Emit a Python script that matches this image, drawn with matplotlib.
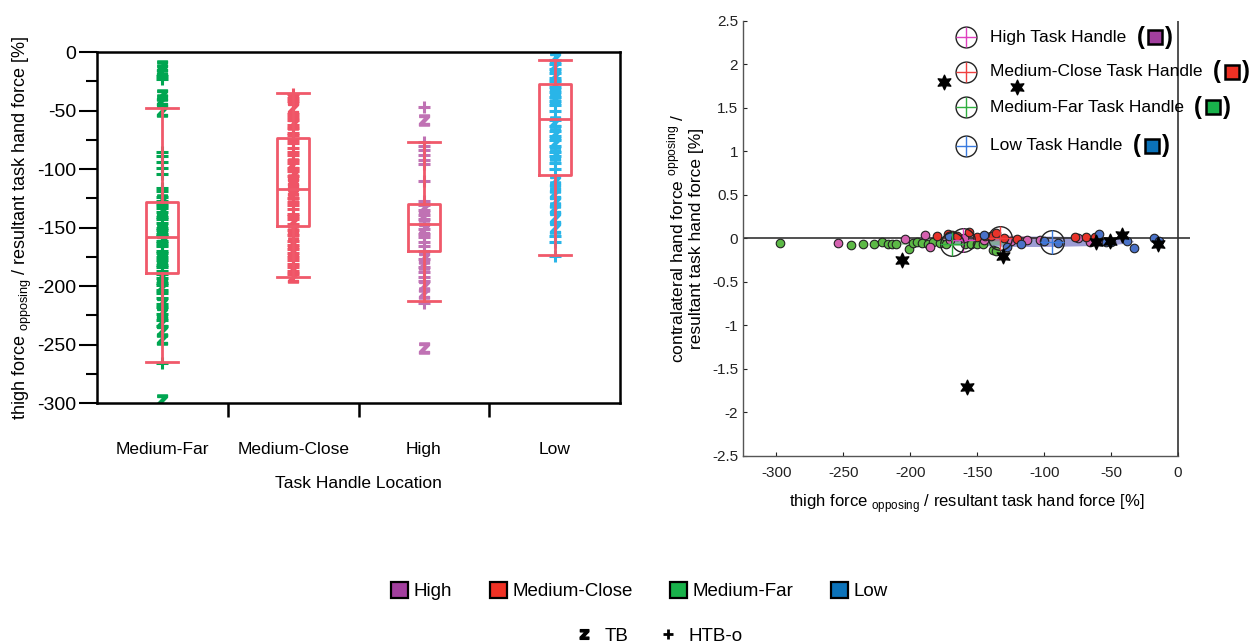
import matplotlib.pyplot as plt
import numpy as np
from matplotlib.lines import Line2D
from matplotlib.patches import Patch, Ellipse

plt.rcParams['font.family'] = ['Liberation Sans', 'DejaVu Sans']
plt.rcParams['mathtext.fontset'] = 'custom'
plt.rcParams['mathtext.rm'] = 'Liberation Sans'
plt.rcParams['axes.unicode_minus'] = False

# ---- left panel data: thigh force ratio per task handle location ----
categories = ['Medium-Far', 'Medium-Close', 'High', 'Low']
point_colors = ['#00a651', '#ef5466', '#c072b4', '#29b5e8']

whisker_hi = [-48, -35, -77, -7]
q3_vals = [-128, -73, -130, -27]
median_vals = [-158, -117, -147, -57]
q1_vals = [-189, -149, -170, -105]
whisker_lo = [-265, -192, -213, -173]

tb_medium_far = [-12, -15, -37, -41, -50, -126, -136, -151, -161, -176, -191,
                 -201, -214, -223, -231, -238, -245, -297]
htb_medium_far = [-20, -23, -85, -89, -94, -99, -104, -116, -119, -124, -127,
                  -131, -133, -137, -141, -143, -146, -150, -152, -155, -157,
                  -161, -163, -166, -170, -172, -175, -178, -182, -184, -187,
                  -190, -193, -197, -199, -203, -206, -210, -215, -218, -224,
                  -229, -234, -266]
tb_medium_close = [-40, -48, -61, -96, -105, -109, -113, -118, -121, -145,
                   -151, -163, -170, -185, -192]
htb_medium_close = [-36, -39, -42, -53, -55, -58, -62, -65, -69, -71, -75,
                    -78, -82, -85, -88, -92, -95, -99, -102, -106, -125, -128,
                    -131, -134, -138, -140, -143, -147, -152, -156, -161, -165,
                    -168, -172, -175, -178, -181, -184, -187, -190]
tb_high = [-58, -133, -140, -151, -176, -181, -200, -206, -253]
htb_high = [-47, -77, -80, -84, -88, -92, -96, -110, -127, -131, -135, -139,
            -143, -147, -151, -155, -158, -162, -166, -170, -177, -184, -188,
            -192, -196, -214]
tb_low = [-5, -12, -20, -28, -35, -40, -60, -70, -78, -88, -110, -115, -120,
          -128, -133, -142, -150]
htb_low = [-7, -10, -14, -18, -22, -25, -30, -34, -38, -42, -45, -50, -58,
           -63, -67, -72, -75, -80, -85, -89, -95, -100, -157, -162, -174]

tb_all = [tb_medium_far, tb_medium_close, tb_high, tb_low]
htb_all = [htb_medium_far, htb_medium_close, htb_high, htb_low]

# ---- right panel data: contralateral vs thigh ratio ----
green_x = [-297, -244, -235, -227, -221, -217, -214, -211, -201, -198, -195,
           -191, -187, -183, -178, -173, -159, -155, -150, -146, -138, -136]
green_y = [-0.05, -0.08, -0.06, -0.07, -0.04, -0.06, -0.07, -0.06, -0.12,
           -0.05, -0.04, -0.05, -0.06, -0.04, -0.05, -0.06, -0.07, -0.06,
           -0.07, -0.07, -0.14, -0.15]
pink_x = [-254, -204, -189, -185, -170, -160, -145, -125, -113, -103, -75,
          -66, -60]
pink_y = [-0.05, -0.01, 0.04, -0.10, -0.02, 0.0, -0.02, -0.03, -0.02, -0.02,
          0.0, -0.04, -0.02]
red_x = [-180, -172, -169, -165, -156, -150, -144, -140, -136, -130, -120,
         -77, -69, -62]
red_y = [0.03, 0.05, 0.04, 0.03, 0.07, 0.02, 0.03, 0.03, 0.06, 0.0, -0.01,
         0.01, 0.02, 0.01]
blue_x = [-171, -145, -128, -117, -100, -90, -59, -54, -50, -38, -33, -18, -14]
blue_y = [0.03, 0.04, -0.10, -0.07, -0.03, -0.05, 0.05, -0.04, -0.04, -0.03,
          -0.11, 0.0, -0.03]
star_x = [-175, -120, -206, -131, -158, -42, -51, -61, -15]
star_y = [1.79, 1.74, -0.25, -0.20, -1.71, 0.04, -0.03, -0.04, -0.06]

mean_labels = ['High', 'Medium-Close', 'Medium-Far', 'Low']
mean_x = [-161, -133, -169, -94]
mean_y = [-0.02, 0.0, -0.07, -0.04]
mean_colors = ['#e040c0', '#f04040', '#30b040', '#3a7be0']
square_colors = ['#a23f9e', '#ee3124', '#19b24b', '#0b72b9']

fig = plt.figure(figsize=(12.54, 6.44), dpi=100)

# ================= left panel =================
ax1 = fig.add_axes([0.0774, 0.374, 0.417, 0.545])
positions = np.arange(1, len(categories) + 1)
stats = []
for i in range(len(categories)):
    stats.append(dict(med=median_vals[i], q1=q1_vals[i], q3=q3_vals[i],
                      whislo=whisker_lo[i], whishi=whisker_hi[i], fliers=[]))

box_color = '#f0596a'
for i, pos in enumerate(positions):
    ax1.plot([pos] * len(htb_all[i]), htb_all[i], linestyle='none', marker='+',
             markersize=8, mew=2.2, color=point_colors[i], zorder=2)
    ax1.plot([pos] * len(tb_all[i]), tb_all[i], linestyle='none',
             marker=r'$\mathbf{z}$', markersize=8, color=point_colors[i],
             zorder=2)

ax1.bxp(stats, positions=positions, widths=0.245, capwidths=0.245,
        showfliers=False,
        boxprops=dict(color=box_color, linewidth=2),
        whiskerprops=dict(color=box_color, linewidth=2),
        capprops=dict(color=box_color, linewidth=2),
        medianprops=dict(color=box_color, linewidth=2))

ax1.set_xlim(0.5, 4.5)
ax1.set_ylim(-300, 0)
ax1.set_yticks(np.arange(-300, 1, 50))
ax1.set_yticks(np.arange(-300, 1, 25), minor=True)
ax1.tick_params(axis='y', which='major', length=13, width=1.5, labelsize=14, pad=2)
ax1.tick_params(axis='y', which='minor', length=8, width=1.5)
ax1.set_xticks(positions)
ax1.set_xticklabels(categories)
ax1.set_xticks([1.5, 2.5, 3.5], minor=True)
ax1.tick_params(axis='x', which='major', length=0, pad=28, labelsize=12.5)
ax1.tick_params(axis='x', which='minor', length=10, width=1.8)
for s in ax1.spines.values():
    s.set_linewidth(1.8)
ax1.set_xlabel('Task Handle Location', fontsize=12.5, labelpad=14)
ax1.set_ylabel(r'thigh force $_{\mathrm{opposing}}$ / resultant task hand force [%]',
               fontsize=13, labelpad=2)

# ================= right panel =================
ax2 = fig.add_axes([0.5925, 0.292, 0.3565, 0.676])
ax2.set_xlim(-325, 9)
ax2.set_ylim(-2.5, 2.5)

ax2.add_patch(Ellipse((-108, -0.04), 150, 0.12, color='#5a5ab8', alpha=0.6,
                      lw=0, zorder=1))
ax2.add_patch(Ellipse((-170, -0.05), 95, 0.08, color='#70b870', alpha=0.55,
                      lw=0, zorder=1))
ax2.add_patch(Ellipse((-145, 0.0), 80, 0.07, color='#c05080', alpha=0.5,
                      lw=0, zorder=1))

ax2.axhline(0, color='#333333', lw=1.2, zorder=2)
ax2.axvline(0, color='#333333', lw=1.2, zorder=2)

kw = dict(s=38, edgecolors='#222222', linewidths=0.8, zorder=3)
ax2.scatter(green_x, green_y, c='#5cb946', **kw)
ax2.scatter(pink_x, pink_y, c='#d462b0', **kw)
ax2.scatter(red_x, red_y, c='#e8332a', **kw)
ax2.scatter(blue_x, blue_y, c='#4a72c8', **kw)
ax2.scatter(star_x, star_y, marker=(6, 1, 0), s=110, c='black', zorder=5)

for i in range(len(mean_x)):
    ax2.plot(mean_x[i], mean_y[i], marker='o', markersize=17, mfc='none',
             mec='#222222', mew=1.0, zorder=4)
    ax2.plot(mean_x[i], mean_y[i], marker='+', markersize=17,
             color=mean_colors[i], mew=1.0, zorder=4)

# legend of means with colored squares
leg_y = [0.962, 0.883, 0.801, 0.712]
leg_texts = []
for i, lab in enumerate(mean_labels):
    ax2.plot([0.499], [leg_y[i]], transform=ax2.transAxes, marker='o',
             markersize=15, mfc='white', mec='#222222', mew=1.0, zorder=6,
             clip_on=False)
    ax2.plot([0.499], [leg_y[i]], transform=ax2.transAxes, marker='+',
             markersize=15, color=mean_colors[i], mew=1.0, zorder=6,
             clip_on=False)
    t = ax2.text(0.553, leg_y[i], lab + ' Task Handle', transform=ax2.transAxes,
                 fontsize=12.5, va='center', ha='left', zorder=6)
    leg_texts.append(t)

fig.canvas.draw()
renderer = fig.canvas.get_renderer()
inv = ax2.transAxes.inverted()
for i, t in enumerate(leg_texts):
    bb = t.get_window_extent(renderer)
    x_end = inv.transform((bb.x1, bb.y0))[0]
    dx = 1.0 / (ax2.get_position().width * fig.get_figwidth() * fig.dpi)
    ax2.text(x_end + 10 * dx, leg_y[i], '(', transform=ax2.transAxes,
             fontsize=17, fontweight='bold', va='center', ha='left',
             clip_on=False)
    ax2.plot([x_end + 29 * dx], [leg_y[i]], transform=ax2.transAxes,
             marker='s', markersize=10, mfc=square_colors[i], mec='black',
             mew=1.8, clip_on=False)
    ax2.text(x_end + 39 * dx, leg_y[i], ')', transform=ax2.transAxes,
             fontsize=17, fontweight='bold', va='center', ha='left',
             clip_on=False)

ax2.set_xticks(np.arange(-300, 1, 50))
ax2.set_yticks(np.arange(-2.5, 2.51, 0.5))
ax2.set_yticklabels(['-2.5', '-2', '-1.5', '-1', '-0.5', '0', '0.5', '1',
                     '1.5', '2', '2.5'])
ax2.tick_params(direction='in', length=3, width=0.8, labelsize=11, colors='#222222')
ax2.tick_params(axis='x', pad=7)
ax2.spines['top'].set_visible(False)
ax2.spines['right'].set_visible(False)
ax2.spines['bottom'].set_bounds(-325, 0)
for s in ['left', 'bottom']:
    ax2.spines[s].set_color('#555555')
    ax2.spines[s].set_linewidth(1.0)
ax2.set_xlabel(r'thigh force $_{\mathrm{opposing}}$ / resultant task hand force [%]',
               fontsize=12, labelpad=9)
ax2.set_ylabel('contralateral hand force $^{\\mathrm{opposing}}$ /\nresultant task hand force [%]',
               fontsize=12.5, labelpad=6)

# ================= bottom legends =================
legend_names = ['High', 'Medium-Close', 'Medium-Far', 'Low']
handles = [Patch(facecolor=c, edgecolor='black', linewidth=1.6) for c in square_colors]
fig.legend(handles, legend_names, loc='center', bbox_to_anchor=(0.51, 0.082),
           ncol=4, frameon=False, fontsize=13.5, handlelength=0.9,
           handleheight=0.9, handletextpad=0.3, columnspacing=2.0)
mark_handles = [Line2D([], [], linestyle='none', marker=r'$\mathbf{z}$',
                       color='black', markersize=7),
                Line2D([], [], linestyle='none', marker='+', color='black',
                       markersize=7, mew=2)]
fig.legend(mark_handles, ['TB', 'HTB-o'], loc='center',
           bbox_to_anchor=(0.525, 0.012), ncol=2, frameon=False, fontsize=13.5,
           handlelength=1.0, handletextpad=0.6, columnspacing=1.6)

fig.savefig('out.png', dpi=100)
